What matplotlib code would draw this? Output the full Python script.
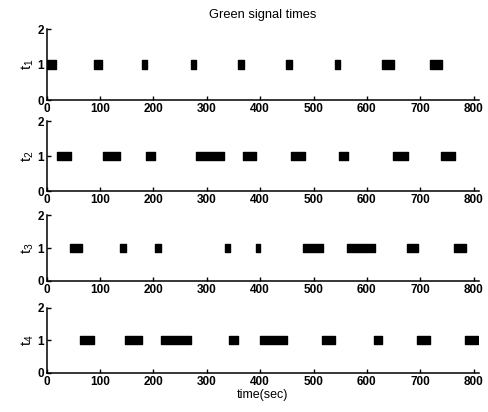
import matplotlib.pyplot as plt

plt.rcParams['font.family'] = ['Liberation Sans', 'DejaVu Sans']

# green intervals (start, end) in seconds for each signal
green_t1 = [(1, 18), (89, 104), (179, 188), (270, 279), (358, 369),
            (449, 460), (540, 549), (628, 650), (718, 741)]
green_t2 = [(19, 45), (105, 137), (187, 203), (280, 333), (368, 392),
            (458, 484), (548, 564), (649, 677), (738, 765)]
green_t3 = [(44, 67), (137, 148), (203, 214), (334, 343), (392, 399),
            (481, 517), (563, 615), (675, 695), (763, 785)]
green_t4 = [(62, 89), (147, 179), (214, 270), (342, 358), (399, 451),
            (516, 540), (613, 629), (693, 719), (783, 809)]

signals = [green_t1, green_t2, green_t3, green_t4]
labels = ['t_1', 't_2', 't_3', 't_4']
xticks = [0, 100, 200, 300, 400, 500, 600, 700, 800]
yticks = [0, 1, 2]

fig = plt.figure(figsize=(4.89, 4.12), dpi=100)

# axes boxes (left, bottom, width, height)
boxes = [(0.0955, 0.757, 0.884, 0.172),
         (0.0955, 0.536, 0.884, 0.170),
         (0.0955, 0.318, 0.884, 0.160),
         (0.0955, 0.095, 0.884, 0.158)]

for i, (sig, lab) in enumerate(zip(signals, labels)):
    ax = fig.add_axes(boxes[i])
    ax.broken_barh([(s, e - s) for s, e in sig], (0.88, 0.24), color='black')
    ax.set_xlim(0, 810)
    ax.set_ylim(0, 2)
    ax.set_xticks(xticks)
    ax.set_yticks(yticks)
    ax.spines['top'].set_visible(False)
    ax.spines['right'].set_visible(False)
    for sp in ('left', 'bottom'):
        ax.spines[sp].set_linewidth(1.1)
    ax.tick_params(direction='in', length=3, width=1.0, labelsize=8.5, pad=2)
    for t in ax.get_xticklabels() + ax.get_yticklabels():
        t.set_fontweight('bold')
    ax.set_ylabel(r'$\mathregular{' + lab + '}$', fontsize=10.5, labelpad=1)
    if i == 0:
        ax.set_title('Green signal times', fontsize=9.3, pad=8)
    if i == 3:
        ax.set_xlabel('time(sec)', fontsize=9, labelpad=1)

fig.savefig('out.png', dpi=100)
